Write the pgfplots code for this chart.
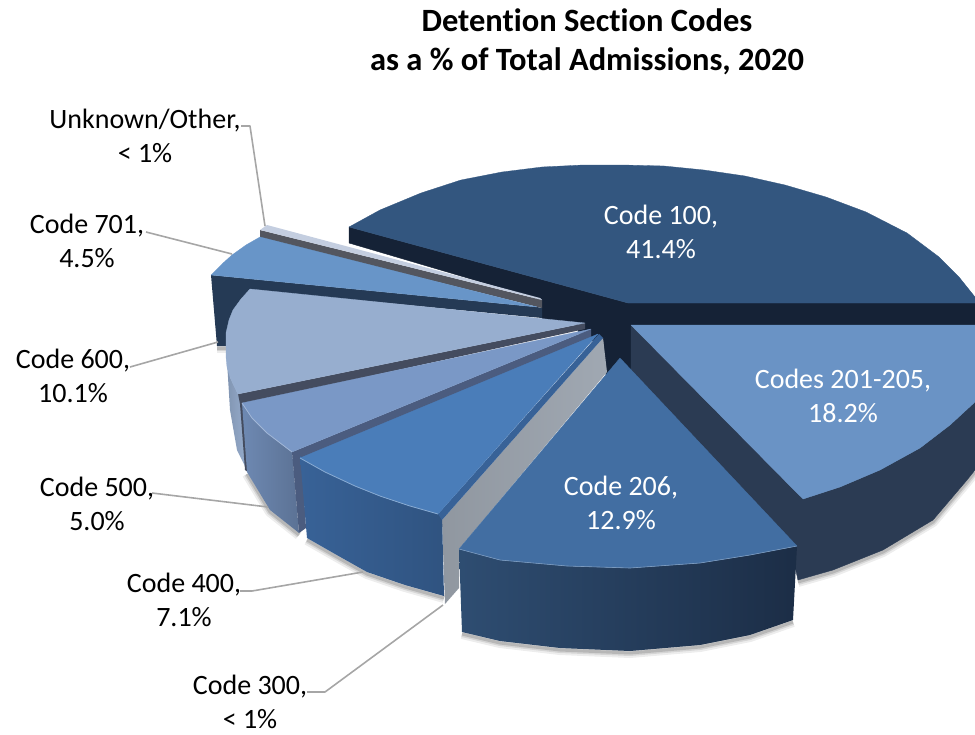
\documentclass[border=0pt]{standalone}
\usepackage{pgfplots}
\pgfplotsset{compat=1.18}
\usepackage{fontspec}
\setmainfont[Ligatures=NoCommon]{Carlito}
\definecolor{sliceA}{HTML}{33567F}
\definecolor{sliceAside}{HTML}{152236}
\definecolor{sliceB}{HTML}{6A93C5}
\definecolor{sliceBside}{HTML}{2B3B53}
\definecolor{sliceC}{HTML}{426EA2}
\definecolor{sliceD}{HTML}{A0A8B2}
\definecolor{sliceE}{HTML}{4A7DB9}
\definecolor{sliceEedge}{HTML}{386297}
\definecolor{sliceF}{HTML}{7A98C6}
\definecolor{sliceFedge}{HTML}{4B5C7F}
\definecolor{sliceG}{HTML}{97AECF}
\definecolor{sliceGedge}{HTML}{444C5F}
\definecolor{sliceH}{HTML}{6895C8}
\definecolor{sliceHside}{HTML}{253A55}
\definecolor{sliceI}{HTML}{C4CEE0}
\definecolor{sliceIedge}{HTML}{53565F}
\definecolor{leader}{HTML}{A6A6A6}
\newcommand{\lab}{\fontsize{28}{34}\selectfont}
% soft shadow along the bottom rims: #1 width, #2 opacity
\newcommand{\rimshadow}[2]{%
\addplot[black, opacity=#2, line width=#1] coordinates {(975,472) (967,482) (933,522) (883,552) (833,572) (798,582)};
\addplot[black, opacity=#2, line width=#1] coordinates {(462,634) (500,643) (560,650) (630,653) (700,647) (750,637) (793,622)};
\addplot[black, opacity=#2, line width=#1] coordinates {(307,540) (335,556) (367,574) (405,587) (444,598)};
\addplot[black, opacity=#2, line width=#1] coordinates {(247,474) (270,512) (299,535)};
\addplot[black, opacity=#2, line width=#1] coordinates {(217,348) (226,348)};
}
\begin{document}
\begin{tikzpicture}
\begin{axis}[
  scale only axis,
  width=975pt,
  height=734pt,
  xmin=0, xmax=975,
  ymin=0, ymax=734,
  y dir=reverse,
  hide axis,
  every axis plot/.append style={mark=none, line join=round},
]
\path (rel axis cs:0,0) rectangle (rel axis cs:1,1);

\rimshadow{10pt}{0.07}
\rimshadow{6pt}{0.10}
\rimshadow{3pt}{0.14}

% code 100
\addplot[fill=sliceAside, draw=sliceAside] coordinates {(349,227) (628,303) (975,303) (975,325) (631,325) (631,372) (606,375) (603,338) (596,343) (578,332) (578,325) (542,320) (542,300) (349,243)} -- cycle;
\addplot[fill=sliceA, draw=sliceA, line width=0.3pt] coordinates {(349,227) (380,210) (421,193) (461,180) (502,172) (542,167) (583,165) (623,165) (664,166) (704,170) (745,176) (785,185) (826,197) (866,212) (907,233) (939,257) (959,277) (975,297) (975,303) (628,303)} -- cycle;

% codes 201-205
\addplot[fill=sliceBside, draw=sliceBside] coordinates {(631,325) (803,499) (840,487) (880,470) (920,448) (950,425) (975,402) (975,470) (967,480) (933,520) (883,550) (833,570) (798,580) (790,545) (631,370)} -- cycle;
\addplot[fill=sliceB, draw=sliceB, line width=0.3pt] coordinates {(631,325) (975,325) (975,402) (950,425) (920,448) (880,470) (840,487) (803,499)} -- cycle;

% unknown/other
\addplot[fill=sliceIedge, draw=none] coordinates {(260,230) (542,300) (542,308) (260,238)} -- cycle;
\addplot[fill=sliceI, draw=none] coordinates {(267,225) (260,230) (542,300) (540,298)} -- cycle;

% code 701
\addplot[fill=sliceHside, draw=none] coordinates {(211,275) (537,307) (542,308) (542,318) (250,290) (226,333) (226,346) (217,346)} -- cycle;
\addplot[fill=sliceH, draw=sliceH, line width=0.3pt] coordinates {(260,237) (537,307) (211,275) (222,264) (232,255) (246,245)} -- cycle;

% code 600
\addplot[shade, left color=sliceG!85!black, right color=sliceG, draw=none] coordinates {(226,345) (230,377) (238,394) (242,403) (248,472) (237,450) (230,410)} -- cycle;
\addplot[fill=sliceGedge, draw=none] coordinates {(585,323) (585,329) (243,404) (248,472) (245,470) (240,404) (238,394)} -- cycle;
\addplot[fill=sliceG, draw=sliceG, line width=0.3pt] coordinates {(585,323) (238,394) (233,384) (230,377) (227,367) (226,357) (226,345) (226,333) (229,320) (233,310) (241,299) (250,289)} -- cycle;

% code 500
\addplot[shade, left color=sliceF!90!black, right color=sliceF!75!black, draw=none] coordinates {(242,403) (250,415) (267,431) (292,450) (299,533) (270,510) (247,472)} -- cycle;
\addplot[fill=sliceFedge, draw=none] coordinates {(591,329) (591,340) (302,462) (306,528) (299,533) (292,452)} -- cycle;
\addplot[fill=sliceF, draw=sliceF, line width=0.3pt] coordinates {(591,329) (292,452) (267,433) (252,418) (242,403)} -- cycle;
\addplot[sliceF!70!white, line width=0.8pt] coordinates {(242,403) (252,418) (267,433) (292,452)};

% code 300
\addplot[shade, left color=sliceD!90!black, right color=sliceD, draw=none] coordinates {(603,338) (607,372) (459,549) (459,588) (445,604) (442,520)} -- cycle;

% code 400
\addplot[shade, left color=sliceEedge, right color=sliceEedge!85!black, draw=none] coordinates {(300,456) (325,470) (355,484) (380,494) (410,504) (442,514) (444,596) (405,585) (367,572) (335,554) (307,538)} -- cycle;
\addplot[fill=sliceEedge, draw=none] coordinates {(599,334) (603,338) (442,520) (438,514)} -- cycle;
\addplot[fill=sliceE, draw=sliceE, line width=0.3pt] coordinates {(598,334) (438,514) (410,506) (380,496) (355,486) (325,472) (300,458)} -- cycle;
\addplot[sliceE!65!white, line width=0.8pt] coordinates {(300,458) (325,472) (355,486) (380,496) (410,506) (438,514)};

% code 206
\addplot[shade, left color=sliceC!70!black, right color=sliceAside!85!sliceC, draw=none] coordinates {(459,549) (500,560) (567,566) (630,568) (700,563) (750,555) (797,546) (793,620) (750,635) (700,645) (630,651) (560,648) (500,641) (462,632)} -- cycle;
\addplot[fill=sliceC, draw=sliceC, line width=0.3pt] coordinates {(620,358) (797,546) (750,555) (700,563) (630,568) (567,566) (500,560) (459,549)} -- cycle;
\addplot[sliceC!70!white, line width=0.6pt] coordinates {(459,549) (500,560) (567,566) (630,568) (700,563) (750,555) (797,546)};

% leader lines
\addplot[leader, line width=1.6pt] coordinates {(241,126) (250,126) (265,226)};
\addplot[leader, line width=1.6pt] coordinates {(146,232) (232,254)};
\addplot[leader, line width=1.6pt] coordinates {(130,367) (218,342)};
\addplot[leader, line width=1.6pt] coordinates {(152,493) (268,507)};
\addplot[leader, line width=1.6pt] coordinates {(240,591) (252,591) (363,572)};
\addplot[leader, line width=1.6pt] coordinates {(307,692) (325,692) (443,605)};

% title
\node[align=center, font=\fontsize{32.5}{38.5}\selectfont\bfseries] at (axis cs:587,42) {Detention Section Codes\\as a \% of Total Admissions, 2020};

% labels
\node[align=center, font=\lab, text=white] at (axis cs:661,232) {Code 100,\\41.4\%};
\node[align=center, font=\lab, text=white] at (axis cs:843,396) {Codes 201-205,\\18.2\%};
\node[align=center, font=\lab, text=white] at (axis cs:621,503) {Code 206,\\12.9\%};
\node[align=center, font=\lab] at (axis cs:145,136) {Unknown/Other,\\< 1\%};
\node[align=center, font=\lab] at (axis cs:87,241) {Code 701,\\4.5\%};
\node[align=center, font=\lab] at (axis cs:73,376) {Code 600,\\10.1\%};
\node[align=center, font=\lab] at (axis cs:97,504) {Code 500,\\5.0\%};
\node[align=center, font=\lab] at (axis cs:184,600) {Code 400,\\7.1\%};
\node[align=center, font=\lab] at (axis cs:250,702) {Code 300,\\< 1\%};
\end{axis}
\end{tikzpicture}
\end{document}
